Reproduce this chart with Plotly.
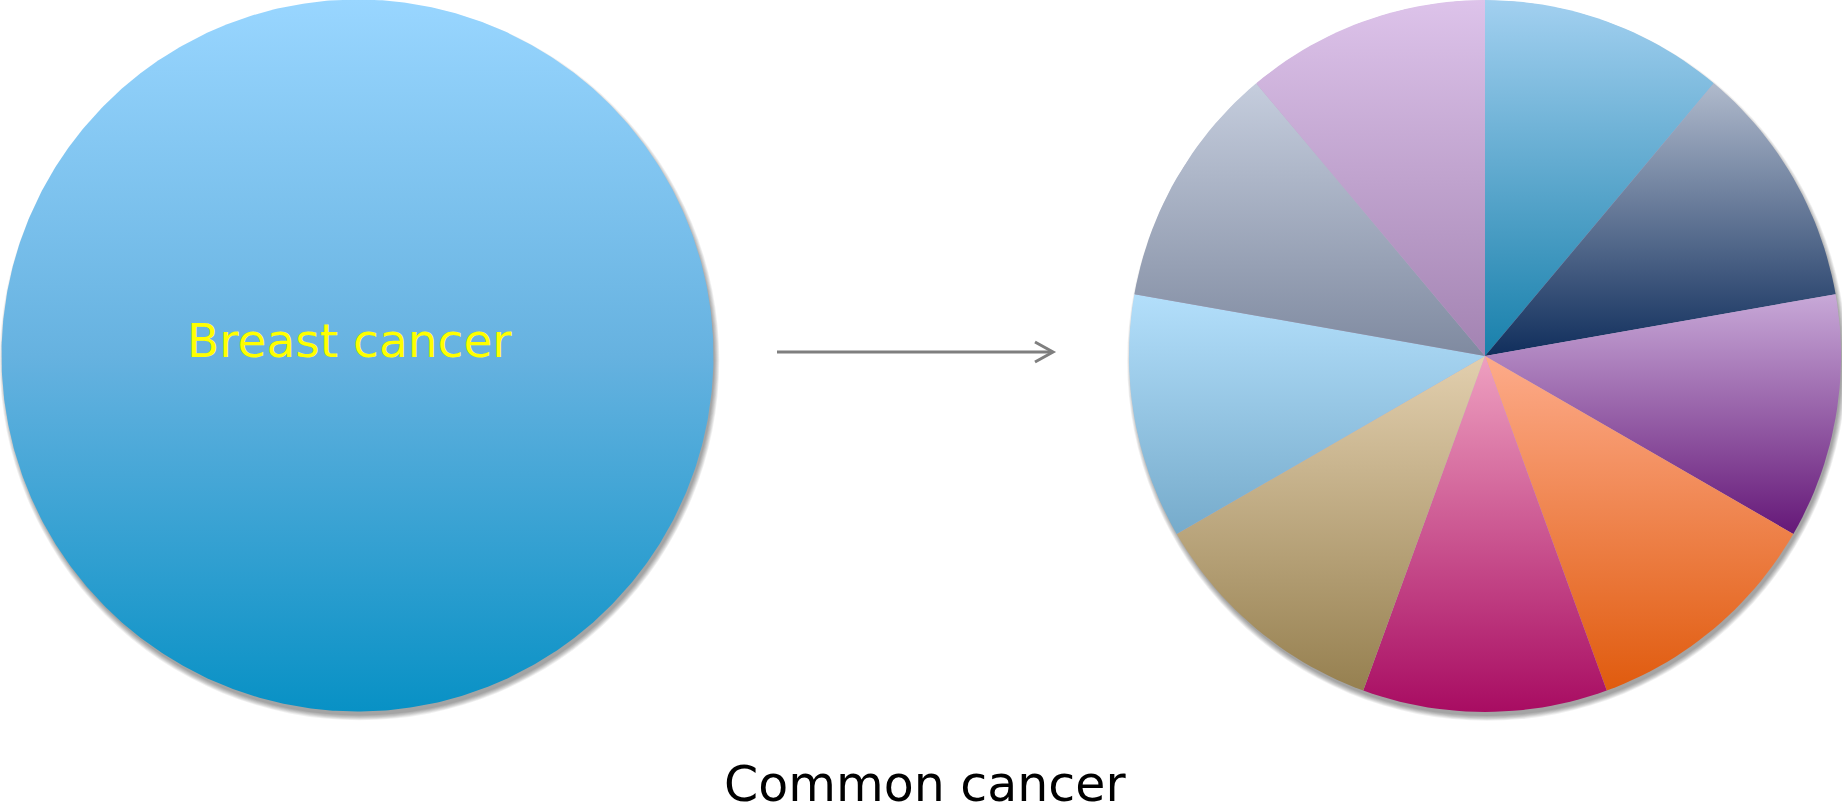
import numpy as np
import plotly.graph_objects as go

# ---- data -------------------------------------------------------------
W, H = 1842, 812

# single-category disc on the left
breast_label = "Breast cancer"
breast_values = [1]
breast_colorscale = [[0.0, "#0891C5"], [0.5, "#66B2E0"], [1.0, "#99D6FF"]]

# nine equal shares on the right, clockwise from 12 o'clock
pie_values = [1, 1, 1, 1, 1, 1, 1, 1, 1]
slice_top_colors = ["#A2D0F0", "#B0BACC", "#C8A9D8", "#FDAB8A", "#EEA0C0",
                    "#E2CFAE", "#B3DFFB", "#C5CDDD", "#DDC3EA"]
slice_bottom_colors = ["#1880AB", "#102E5C", "#651878", "#E05B0E", "#A80C62",
                       "#968050", "#76ABCB", "#7F8AA0", "#A383B2"]

title_text = "Common cancer"

# ---- layout geometry (pixels, y measured downward) ---------------------
LEFT_C = (357.5, 355.5)
RIGHT_C = (1485.0, 356.0)
RADIUS = 356.0


def up(py):
    """page-down pixel y -> axis y (axis runs upward)"""
    return H - py


def wedges(values, center, r, n_arc=240):
    """polygon outlines of pie wedges, clockwise from the top"""
    cx, cy = center
    total = float(sum(values))
    out = []
    a0 = 0.0
    for v in values:
        a1 = a0 + 2 * np.pi * v / total
        n = max(int(n_arc * v / total), 8)
        th = np.linspace(a0, a1, n + 1)
        xs = cx + r * np.sin(th)
        ys = up(cy) + r * np.cos(th)
        if v < total:
            xs = np.concatenate([[cx], xs, [cx]])
            ys = np.concatenate([[up(cy)], ys, [up(cy)]])
        out.append((xs, ys))
        a0 = a1
    return out


fig = go.Figure()

# soft drop shadows behind both discs, falling down and to the right
shapes = []
for (cx, cy) in (LEFT_C, RIGHT_C):
    for k in range(7):
        rr = RADIUS - 1.0 + k * 0.8
        ox, oy = 2.0, 5.0
        shapes.append(dict(
            type="circle", xref="x", yref="y", layer="below",
            x0=cx + ox - rr, x1=cx + ox + rr,
            y0=up(cy + oy) - rr, y1=up(cy + oy) + rr,
            fillcolor="rgba(0,0,0,0.06)", line=dict(width=0)))

# left disc
for xs, ys in wedges(breast_values, LEFT_C, RADIUS, n_arc=720):
    fig.add_trace(go.Scatter(
        x=xs, y=ys, mode="lines", fill="toself", line=dict(width=0),
        fillgradient=dict(type="vertical", colorscale=breast_colorscale),
        hoverinfo="skip", showlegend=False))

# right pie: a plain under-disc hides hairline seams between wedges
for xs, ys in wedges([1], RIGHT_C, RADIUS - 0.5, n_arc=720):
    fig.add_trace(go.Scatter(
        x=xs, y=ys, mode="lines", fill="toself", line=dict(width=0),
        fillcolor="#B9A9C6", hoverinfo="skip", showlegend=False))

for (xs, ys), top, bot in zip(wedges(pie_values, RIGHT_C, RADIUS),
                              slice_top_colors, slice_bottom_colors):
    fig.add_trace(go.Scatter(
        x=xs, y=ys, mode="lines", fill="toself", line=dict(width=0),
        fillgradient=dict(type="vertical",
                          colorscale=[[0.0, bot], [1.0, top]]),
        hoverinfo="skip", showlegend=False))

# arrow between the two discs
ay = up(352)
shapes.append(dict(type="line", xref="x", yref="y", x0=777, x1=1052,
                   y0=ay, y1=ay, line=dict(color="#7F7F7F", width=3)))
shapes.append(dict(type="path", xref="x", yref="y",
                   path=f"M 1035,{ay + 10} L 1053,{ay} L 1035,{ay - 10}",
                   line=dict(color="#7F7F7F", width=3)))

annotations = [
    dict(x=LEFT_C[0] - 8, y=up(340), xref="x", yref="y", text=breast_label,
         showarrow=False, xanchor="center", yanchor="middle",
         font=dict(family="DejaVu Sans", size=47, color="#FFFF00")),
    dict(x=925, y=up(784), xref="x", yref="y", text=title_text,
         showarrow=False, xanchor="center", yanchor="middle",
         font=dict(family="DejaVu Sans", size=49, color="#000000")),
]

fig.update_layout(
    width=W, height=H, autosize=False,
    margin=dict(l=0, r=0, t=0, b=0, pad=0),
    paper_bgcolor="#FFFFFF", plot_bgcolor="#FFFFFF",
    xaxis=dict(range=[0, W], visible=False, fixedrange=True),
    yaxis=dict(range=[0, H], visible=False, fixedrange=True),
    shapes=shapes, annotations=annotations,
)

fig.write_html("out.html", config={"displayModeBar": False})
